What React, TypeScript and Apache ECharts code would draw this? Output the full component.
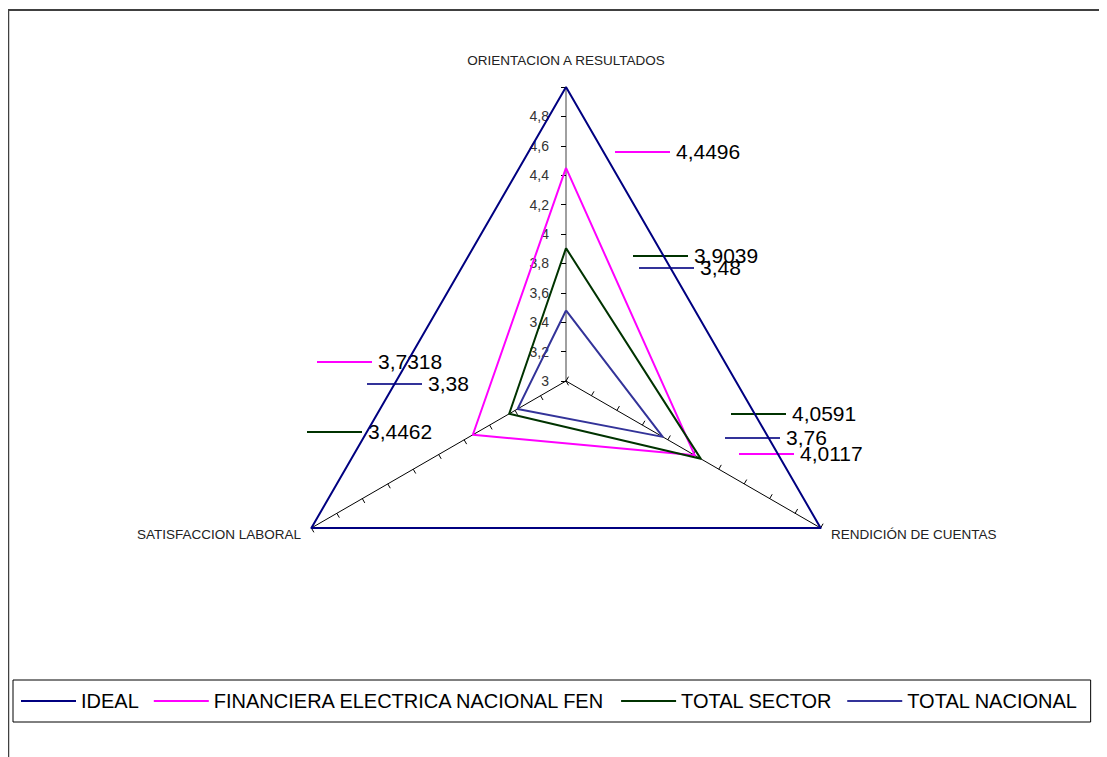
import React, { useEffect, useRef } from "react";
import * as echarts from "echarts";

// Indicators (ECharts places them counter-clockwise from the top)
const indicators = ["ORIENTACION A RESULTADOS", "SATISFACCION LABORAL", "RENDICIÓN DE CUENTAS"];
const seriesNames = ["IDEAL", "FINANCIERA ELECTRICA NACIONAL FEN", "TOTAL SECTOR", "TOTAL NACIONAL"];
const ideal = [5, 5, 5];
const fen = [4.4496, 3.7318, 4.0117];
const sector = [3.9039, 3.4462, 4.0591];
const nacional = [3.48, 3.38, 3.76];
const axisMin = 3;
const axisMax = 5;
const splits = 10;

const colors = ["#000080", "#FF00FF", "#003300", "#333399"];

// label placement (chart px): [seriesIndex, indicatorIndex, lineStartX, lineY]
const labelLayout: [number, number, number, number][] = [
  [1, 0, 607, 144],
  [2, 0, 625, 248],
  [3, 0, 631, 260],
  [1, 1, 309, 354],
  [3, 1, 359, 376],
  [2, 1, 299, 424],
  [2, 2, 723, 406],
  [3, 2, 717, 430],
  [1, 2, 731, 446],
];

const fmt = (v: number) => String(v).replace(".", ",");

export default function App() {
  const ref = useRef<HTMLDivElement>(null);
  useEffect(() => {
    if (!ref.current) return;
    const chart = echarts.init(ref.current, undefined, { renderer: "svg" });
    const all = [ideal, fen, sector, nacional];
    const graphics: any[] = [
      { type: "line", shape: { x1: 0, y1: 2, x2: 1099, y2: 2 }, style: { stroke: "#000", lineWidth: 1.5 } },
      { type: "line", shape: { x1: 0.5, y1: 2, x2: 0.5, y2: 749 }, style: { stroke: "#404040", lineWidth: 1.5 } },
    ];
    labelLayout.forEach(([s, i, x, y]) => {
      graphics.push({
        type: "line",
        shape: { x1: x, y1: y, x2: x + 55, y2: y },
        style: { stroke: colors[s], lineWidth: 2 },
      });
      graphics.push({
        type: "text",
        x: x + 61,
        y: y - 1,
        style: {
          text: fmt(all[s][i]),
          font: '21px "Liberation Sans", Arial, sans-serif',
          fill: "#000",
          textVerticalAlign: "middle",
          verticalAlign: "middle",
        },
      });
    });
    const option: any = {
      animation: false,
      backgroundColor: "#fff",
      color: colors,
      legend: {
        left: 5,
        top: 672,
        orient: "horizontal",
        borderColor: "#000",
        borderWidth: 1,
        padding: [11, 13, 11, 8],
        itemWidth: 55,
        itemHeight: 2,
        itemGap: 15,
        icon: "rect",
        textStyle: { fontFamily: '"Liberation Sans", Arial, sans-serif', fontSize: 20, color: "#000" },
        data: seriesNames,
      },
      radar: {
        center: [558, 373],
        radius: 294,
        startAngle: 90,
        shape: "polygon",
        splitNumber: splits,
        axisName: {
          color: "#222",
          fontSize: 13.5,
          fontFamily: '"Liberation Sans", Arial, sans-serif',
        },
        nameGap: 12,
        splitLine: { show: false },
        splitArea: { show: false },
        axisLine: { show: true, lineStyle: { color: "#000", width: 1 } },
        axisTick: { show: true, length: 5, lineStyle: { color: "#000", width: 1 } },
        axisLabel: { show: false },
        indicator: indicators.map((name, i) =>
          i === 0
            ? {
                name,
                min: axisMin,
                max: axisMax,
                nameGap: 20,
                axisLine: { lineStyle: { color: "#808080", width: 1.5 } },
                axisLabel: {
                  show: true,
                  fontSize: 14,
                  color: "#333",
                  margin: 17,
                  fontFamily: '"Liberation Sans", Arial, sans-serif',
                  formatter: (v: number) => (v >= axisMax ? "" : fmt(Math.round(v * 10) / 10)),
                },
              }
            : { name, min: axisMin, max: axisMax }
        ),
      },
      series: [
        {
          type: "radar",
          symbol: "none",
          data: all.map((vals, k) => ({
            name: seriesNames[k],
            value: vals,
            lineStyle: { color: colors[k], width: 2 },
            itemStyle: { color: colors[k] },
          })),
        },
      ],
      graphic: graphics,
    };
    chart.setOption(option);
    return () => chart.dispose();
  }, []);
  return <div ref={ref} style={{ width: 1099, height: 749 }} />;
}
